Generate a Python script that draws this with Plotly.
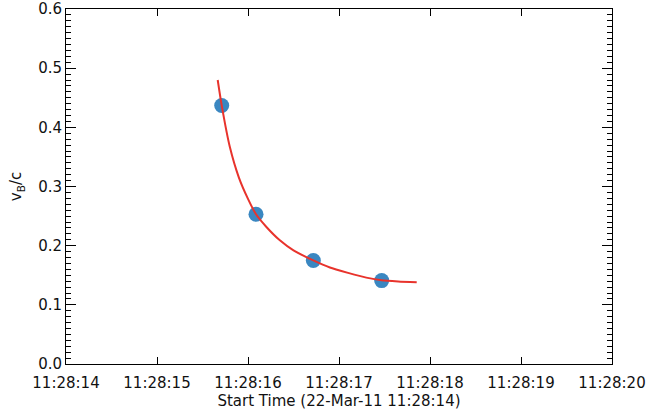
import plotly.graph_objects as go

# Observed data points (start time, v_B/c)
obs_time = ["2011-03-22 11:28:15.711", "2011-03-22 11:28:16.088",
            "2011-03-22 11:28:16.718", "2011-03-22 11:28:17.469"]
obs_v = [0.437, 0.253, 0.175, 0.141]

# Fitted curve
fit_time = ["2011-03-22 11:28:15.667", "2011-03-22 11:28:15.711", "2011-03-22 11:28:15.800",
            "2011-03-22 11:28:15.900", "2011-03-22 11:28:16.000", "2011-03-22 11:28:16.088",
            "2011-03-22 11:28:16.200", "2011-03-22 11:28:16.350", "2011-03-22 11:28:16.500",
            "2011-03-22 11:28:16.718", "2011-03-22 11:28:16.900", "2011-03-22 11:28:17.100",
            "2011-03-22 11:28:17.300", "2011-03-22 11:28:17.469", "2011-03-22 11:28:17.650",
            "2011-03-22 11:28:17.854"]
fit_v = [0.480, 0.437, 0.367, 0.315, 0.279, 0.253, 0.232, 0.209, 0.192,
         0.175, 0.163, 0.154, 0.146, 0.1415, 0.1395, 0.138]

x_range = ["2011-03-22 11:28:14", "2011-03-22 11:28:20"]
y_range = [0.0, 0.6]
x_title = "Start Time (22-Mar-11 11:28:14)"
y_title = "v<sub>B</sub>/c"

font = "DejaVu Sans"

fig = go.Figure()
fig.add_trace(go.Scatter(x=obs_time, y=obs_v, mode="markers",
                         marker=dict(size=15, color="#3a87c1", line=dict(width=0)),
                         showlegend=False))
fig.add_trace(go.Scatter(x=fit_time, y=fit_v, mode="lines",
                         line=dict(color="#e8332c", width=2, shape="spline", smoothing=0.6),
                         showlegend=False))

fig.update_layout(
    width=650, height=414,
    margin=dict(l=66, r=38, t=9, b=50),
    paper_bgcolor="white", plot_bgcolor="white",
    font=dict(family=font, size=15, color="#111111"),
)
fig.update_xaxes(
    type="date", range=x_range, dtick=1000, tickformat="%H:%M:%S",
    ticks="inside", ticklen=7, tickcolor="black", tickwidth=1,
    showline=True, linecolor="black", linewidth=1, mirror="ticks",
    showgrid=False, zeroline=False, automargin=False,
    tickfont=dict(family=font, size=15),
    ticklabelstandoff=5,
    title=dict(text=x_title, font=dict(family=font, size=15), standoff=2),
)
fig.update_yaxes(
    range=y_range, dtick=0.1, tickformat=".1f",
    ticks="inside", ticklen=10, tickcolor="black", tickwidth=1,
    minor=dict(dtick=0.01, ticks="inside", ticklen=5, tickcolor="black", tickwidth=1, showgrid=False),
    showline=True, linecolor="black", linewidth=1, mirror="ticks",
    showgrid=False, zeroline=False, automargin=False,
    tickfont=dict(family=font, size=15),
    title=dict(text=y_title, font=dict(family=font, size=15), standoff=12),
)

fig.write_html("out.html")
